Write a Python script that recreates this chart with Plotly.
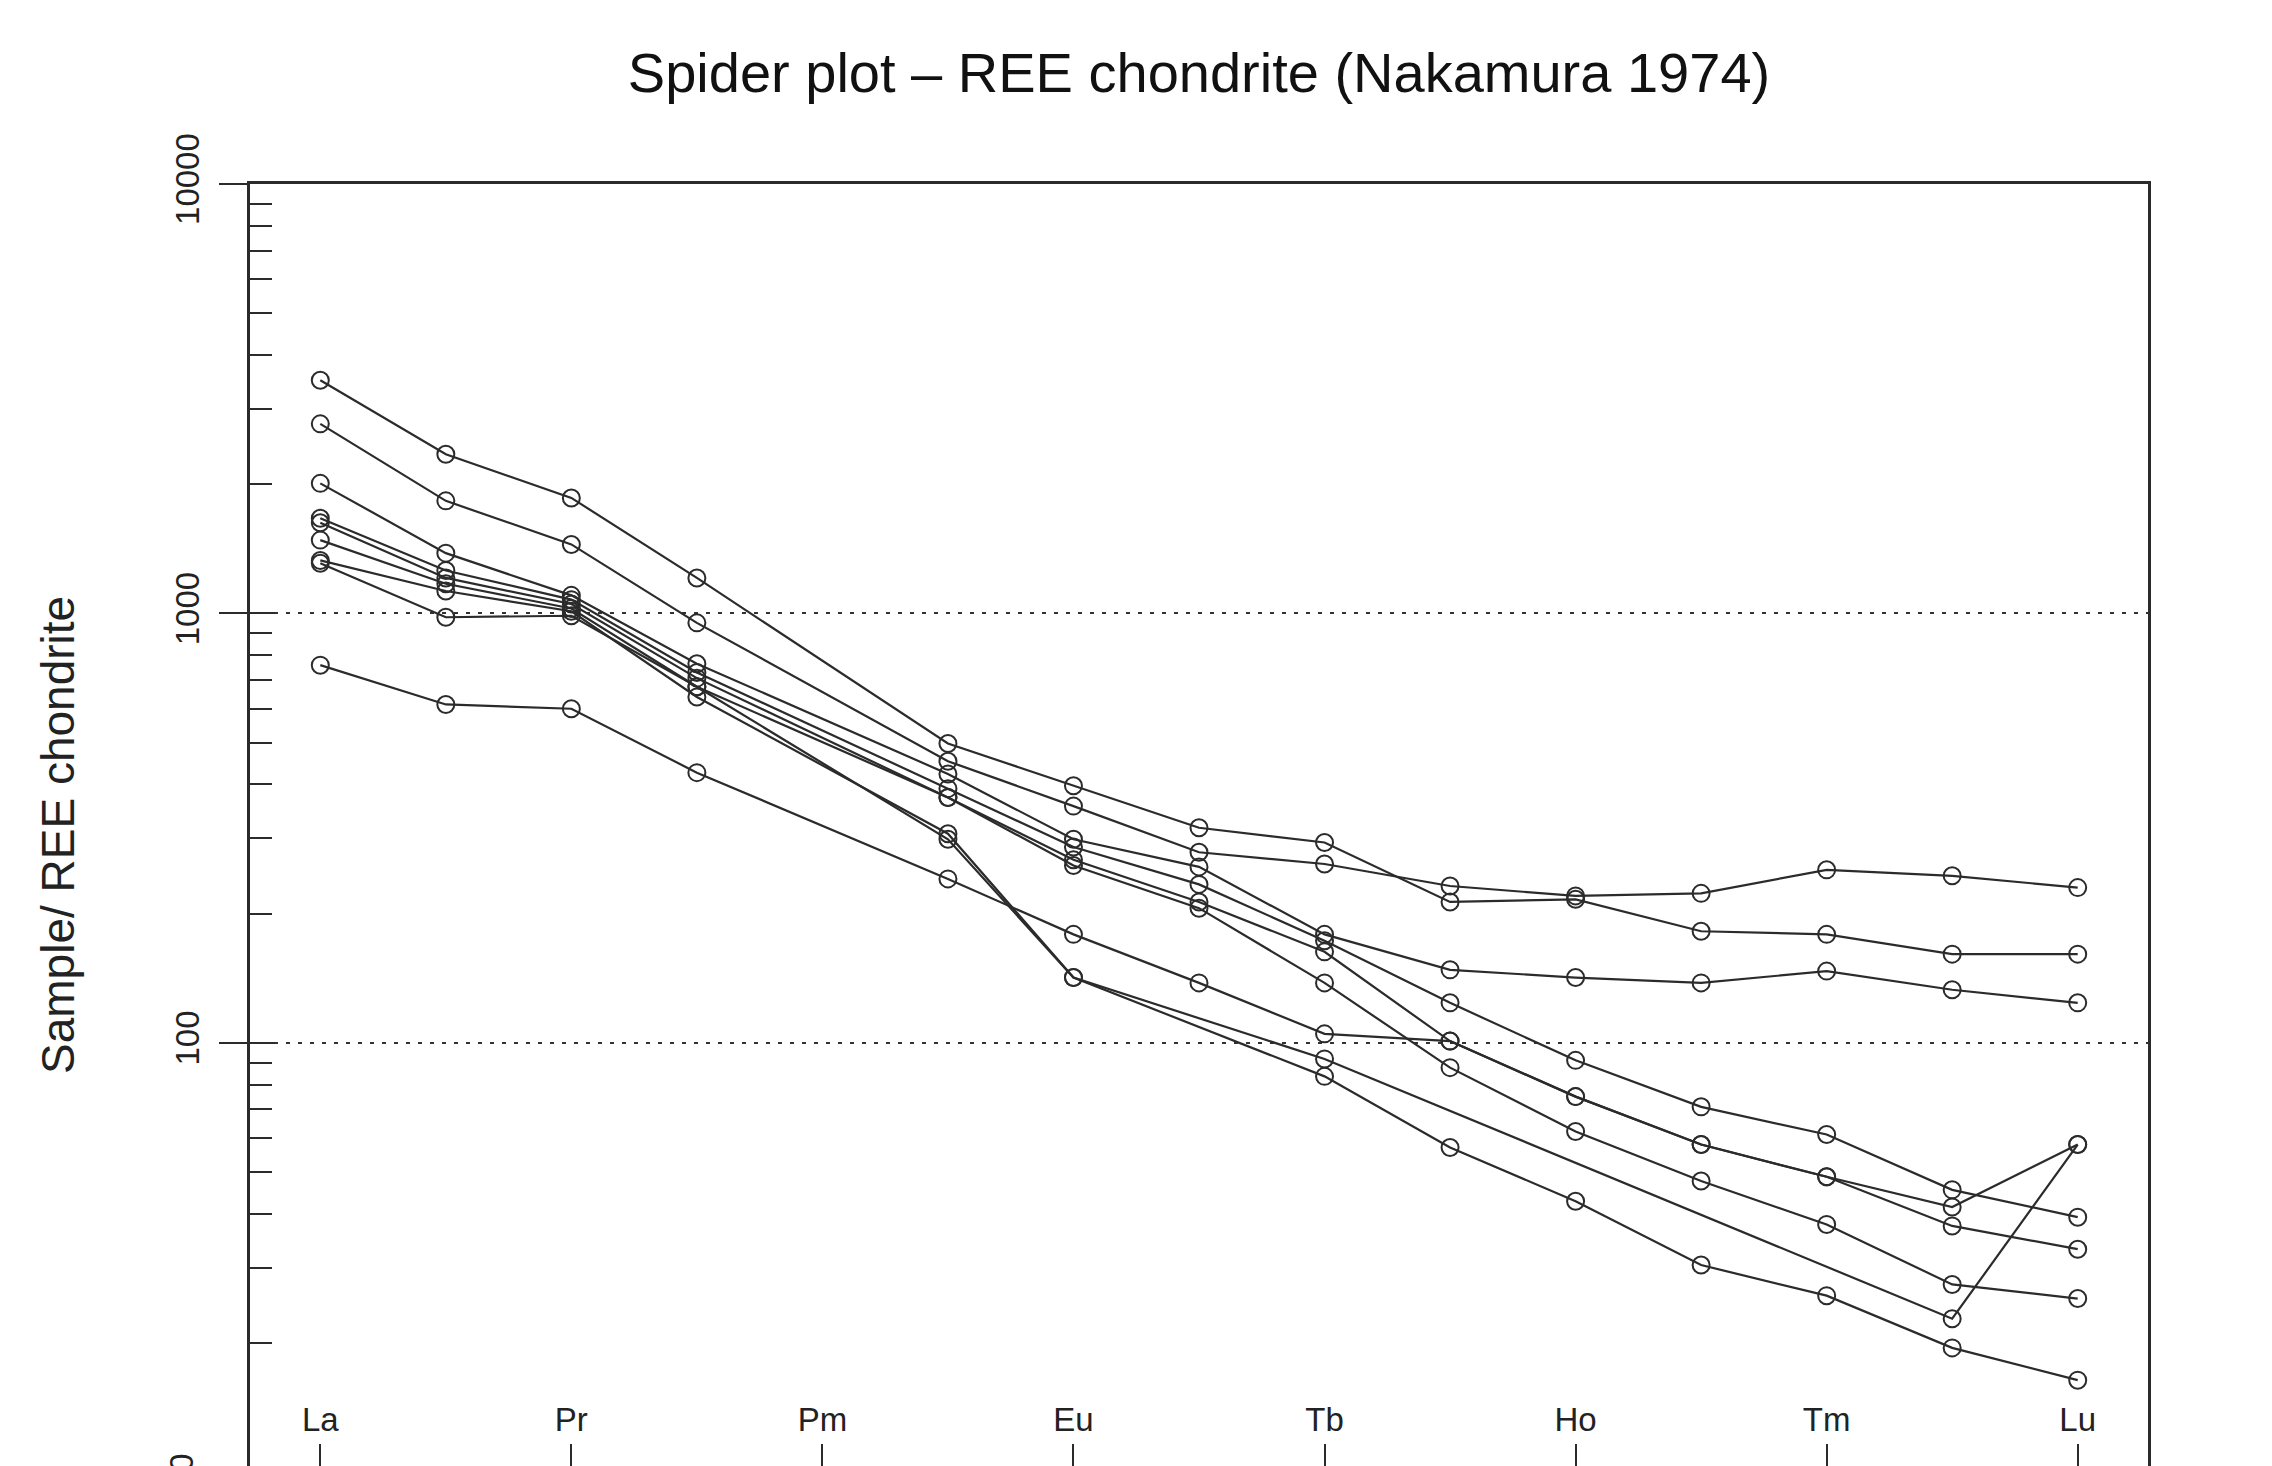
import plotly.graph_objects as go

elements = ["La", "Ce", "Pr", "Nd", "Pm", "Sm", "Eu", "Gd", "Tb", "Dy", "Ho", "Er", "Tm", "Yb", "Lu"]
label_positions = [1, 3, 5, 7, 9, 11, 13, 15]
label_text = ["La", "Pr", "Pm", "Eu", "Tb", "Ho", "Tm", "Lu"]

# chondrite-normalised values (None = not determined)
s1 = [3493, 2348, 1858, 1210, None, 498, 397, 317, 293, 213, 216, 182, 179, 161, 161]
s2 = [2764, 1829, 1448, 951, None, 453, 356, 278, 261, 232, 220, 223, 253, 245, 230]
s3 = [2009, 1382, 1102, 764, None, 423, 298, 257, 179, 148, 142, 138, 147, 133, 124]
s4 = [1666, 1259, 1077, 729, None, 391, 286, 234, 173, 124, 91.1, 71.0, 61.2, 45.5, 39.3]
s5 = [1627, 1210, 1052, 707, None, 373, 267, 213, 163, 101, 75.0, 58.0, 48.8, 41.5, 58.0]
s6 = [1482, 1173, 1027, 675, None, 373, 259, 206, 138, 87.6, 62.2, 47.7, 37.8, 27.4, 25.4]
s7 = [1329, 1128, 1012, 639, None, 307, 142, None, 91.8, None, None, None, None, 22.8, 58.0]
s8 = [1309, 980, 988, 675, None, 298, 142, None, 83.6, 57.1, 42.8, 30.4, 25.8, 19.5, 16.4]
s9 = [758, 614, 600, 426, None, 241, 179, 138, 105, 101, 75.0, 58.0, 48.8, 37.5, 33.1]
samples = [s1, s2, s3, s4, s5, s6, s7, s8, s9]

y_major = [10, 100, 1000, 10000]
y_major_text = ["10", "100", "1000", "10000"]

x_pos = list(range(1, len(elements) + 1))
INK = "#2b2b2b"
FONT = "Liberation Sans, Arial, sans-serif"

fig = go.Figure()
for vals in samples:
    fig.add_trace(go.Scatter(
        x=x_pos, y=vals, mode="lines+markers", connectgaps=True,
        line=dict(color=INK, width=2.2),
        marker=dict(symbol="circle-open", size=17, color=INK, line=dict(width=2, color=INK)),
        showlegend=False, hoverinfo="skip",
    ))

# invisible traces anchoring the helper axes (element labels, inner half of major ticks)
fig.add_trace(go.Scatter(x=[None], y=[None], xaxis="x2", showlegend=False))
fig.add_trace(go.Scatter(x=[None], y=[None], yaxis="y2", showlegend=False))

minor_vals = [m * 10 ** k for k in range(1, 4) for m in range(2, 10)]

fig.update_layout(
    width=2272, height=1466,
    margin=dict(l=250, r=124, t=184, b=0),
    paper_bgcolor="white", plot_bgcolor="white",
    font=dict(family=FONT, color="#222"),
    title=dict(text="Spider plot \u2013 REE chondrite (Nakamura 1974)",
               x=0.5, xref="paper", xanchor="center",
               y=1 - 72 / 1466, yref="container", yanchor="middle",
               font=dict(size=56, family=FONT, color="#111")),
    xaxis=dict(range=[0.44, 15.56], side="top", showline=True, linecolor=INK, linewidth=2.5,
               mirror=False, showgrid=False, zeroline=False, ticks="", showticklabels=False),
    xaxis2=dict(range=[0.44, 15.56], overlaying="x", side="bottom", showline=False,
                showgrid=False, zeroline=False, tickmode="array", tickvals=label_positions,
                ticktext=label_text, ticks="inside", ticklen=22, tickwidth=2, tickcolor=INK,
                ticklabelposition="inside", ticklabelstandoff=10,
                tickfont=dict(size=33, family=FONT, color="#222")),
    yaxis=dict(type="log", range=[1.015, 4], showline=True, linecolor=INK, linewidth=2.5,
               mirror=True, tickmode="array", tickvals=y_major,
               ticktext=y_major_text, ticks="outside", ticklen=28,
               tickwidth=2, tickcolor=INK, tickangle=-90, ticklabelstandoff=7,
               tickfont=dict(size=33, family=FONT, color="#222"),
               showgrid=True, gridcolor="#333", gridwidth=2, griddash="4px,8px", zeroline=False,
               minor=dict(tickmode="array", tickvals=minor_vals, ticks="inside", ticklen=22,
                          tickwidth=2, tickcolor=INK, showgrid=False)),
    yaxis2=dict(type="log", range=[1.015, 4], overlaying="y", side="left", showline=False,
                showgrid=False, zeroline=False, tickmode="array", tickvals=y_major,
                ticks="inside", ticklen=25, tickwidth=2, tickcolor=INK, showticklabels=False),
)

fig.add_annotation(text="Sample/ REE chondrite", textangle=-90, xref="paper", yref="paper",
                   x=(58 - 250) / 1898, y=(1466 - 835) / 1282, xanchor="center", yanchor="middle",
                   showarrow=False, font=dict(size=46, family=FONT, color="#222"))
# lowest decade label (10) sits across the lower edge of the picture, as in the reference
fig.add_annotation(text=y_major_text[0], textangle=-90, xref="paper", yref="paper",
                   x=(182 - 250) / 1898, y=(1466 - 1472) / 1282,
                   xanchor="center", yanchor="middle", showarrow=False,
                   font=dict(size=33, family=FONT, color="#222"))

fig.write_html("out.html")
